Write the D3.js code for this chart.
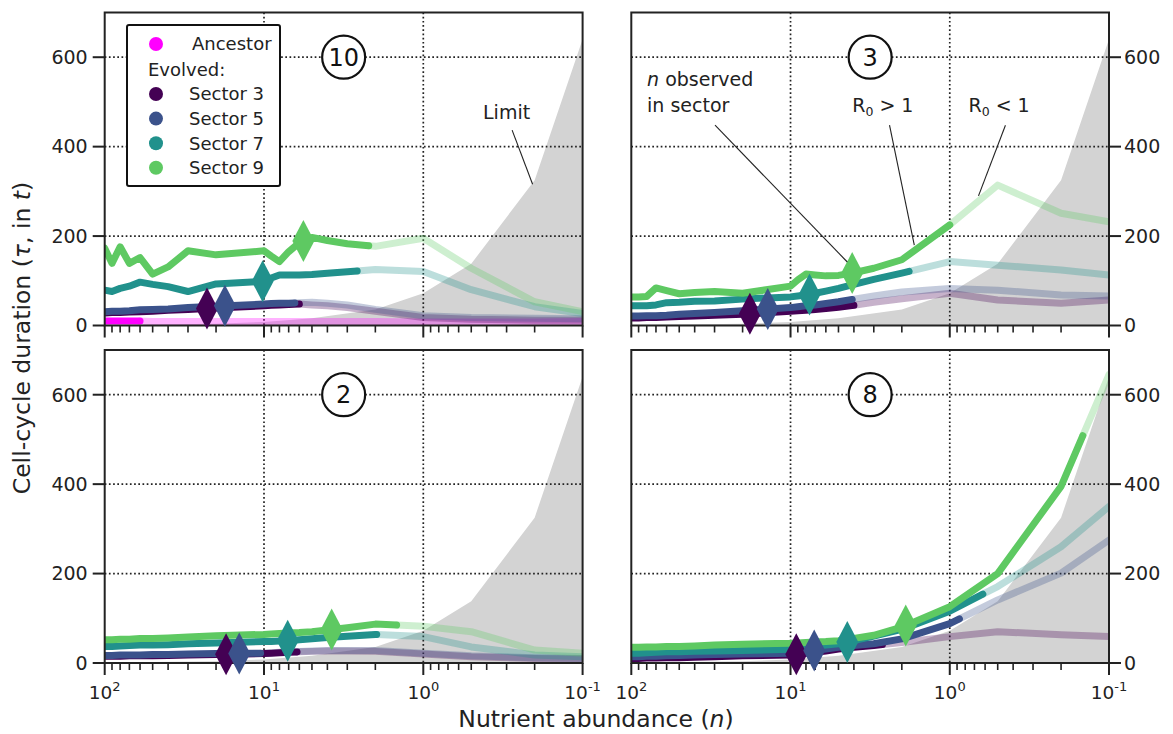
<!DOCTYPE html>
<html><head><meta charset="utf-8">
<script src="https://cdn.jsdelivr.net/npm/d3@7"></script>
<style>
body{margin:0;background:#fff}
svg{display:block}
text{font-family:"DejaVu Sans",sans-serif;fill:#222}
</style>
</head><body>
<svg id="chart" width="1173" height="734"></svg>
<script>
// ---------------- DATA ----------------
const N = [100,90,80,70,60,50,40,30,20,10,9,8,7,6,5,4,3,2,1,0.5,0.2,0.1];
const limitN   = [100,50,20,10,5,2,1,0.5,0.2,0.1];
const limitTau = [1,2,4,8,16,36,72,138,325,640];

const sectorNames = ["Sector 3","Sector 5","Sector 7","Sector 9"];
const sectorColors = ["#440154","#3b528b","#21918c","#5ec962"];
const ancestorColor = "#ff00ff";

// Panel "10"
const p10_s3 = [28,29,29,30,31,32,34,36,39,44,45,46,47,48,46,44,40,32,18,14,12,12];
const p10_s5 = [31,32,32,33,35,36,37,40,43,48,49,50,50,51,52,50,46,36,22,18,16,15];
const p10_s7 = [79,76,83,88,97,92,87,76,93,99,106,113,113,113,114,117,120,125,121,80,42,27];
const p10_s9 = [173,139,176,139,152,115,131,167,158,167,155,143,165,185,197,190,183,177,195,128,53,31];
const p10_cut = [6.0,6.4,2.6,2.2];
const p10_obs = [22.8,17.6,10.2,5.66];
const p10_ancestor = [10,10,10,10,10,9,9,9,9,9,9,9,9,9,9,9,9,9,8,8,8,9];
const p10_ancestorCut = 60;

// Panel "3"
const p3_s3 = [17,17,18,18,19,20,21,23,25,32,33,34,36,38,41,45,52,60,72,57,50,57];
const p3_s5 = [21,21,22,22,23,25,27,29,33,40,42,44,46,49,53,59,66,75,83,79,68,66];
const p3_s7 = [44,44,44,46,51,52,54,55,59,64,66,68,72,77,83,92,103,117,143,135,124,113];
const p3_s9 = [64,64,65,84,78,71,74,76,72,88,102,115,113,111,112,118,128,147,225,314,251,232];
const p3_cut = [4.0,4.1,1.8,1.0];
const p3_obs = [18,13.9,7.6,4.1];

// Panel "2"
const p2_s3 = [15,15,15,16,16,16,17,18,19,21,22,23,24,25,26,27,27,26,20,14,10,9];
const p2_s5 = [17,17,18,18,18,19,19,20,21,22,23,24,25,26,27,28,28,28,22,16,12,10];
const p2_s7 = [37,37,38,39,40,40,41,43,45,48,48,49,50,52,54,57,60,64,59,36,18,14];
const p2_s9 = [52,52,53,53,55,55,56,58,61,64,65,66,67,68,70,74,79,87,82,70,29,22];
const p2_cut = [6.2,10.5,1.96,1.47];
const p2_obs = [17.3,14.3,7.1,3.76];

// Panel "8"
const p8_s3 = [10,10,11,11,12,12,13,14,16,18,20,22,24,27,31,35,39,46,59,70,63,59];
const p8_s5 = [14,14,15,15,16,17,18,19,20,22,24,26,28,31,35,39,43,54,88,141,201,275];
const p8_s7 = [22,22,23,24,25,25,26,27,28,31,33,35,37,40,43,50,60,75,116,171,260,350];
const p8_s9 = [35,35,36,36,37,37,38,40,42,44,45,46,47,48,50,55,62,80,126,200,395,645];
const p8_cut = [2.65,0.87,0.62,0.146];
const p8_obs = [9.2,7.1,4.4,1.89];

const yTicks = [0,200,400,600];
const xMajor = [100,10,1,0.1];
const xMajorExp = ["2","1","0","-1"];
const xMinor = [90,80,70,60,50,40,30,20,9,8,7,6,5,4,3,2,0.9,0.8,0.7,0.6,0.5,0.4,0.3,0.2];
const xGrid = [10,1];

// annotations (data coordinates)
const limitLabel = {n:0.3, tau:462, text:"Limit", from:[0.277,437], to:[0.206,316]};
const obsLabel = {n:79.6, tau:536, from:[29.8,448], to:[4.4,142]};
const r0gtLabel = {n:4.1, tau:477, from:[2.39,448], to:[1.67,180]};
const r0ltLabel = {n:0.763, tau:477, from:[0.447,448], to:[0.66,290]};

// ---------------- LAYOUT ----------------
const colX = [[104.7,582.6],[631.3,1109]];
const rowY = [[12.5,325.5],[350,663]];
const panels = [
  {label:"10", col:0,row:0, series:[p10_s3,p10_s5,p10_s7,p10_s9], cut:p10_cut, obs:p10_obs, ancestor:p10_ancestor, ancestorCut:p10_ancestorCut},
  {label:"3",  col:1,row:0, series:[p3_s3,p3_s5,p3_s7,p3_s9], cut:p3_cut, obs:p3_obs},
  {label:"2",  col:0,row:1, series:[p2_s3,p2_s5,p2_s7,p2_s9], cut:p2_cut, obs:p2_obs},
  {label:"8",  col:1,row:1, series:[p8_s3,p8_s5,p8_s7,p8_s9], cut:p8_cut, obs:p8_obs}
];

const svg = d3.select("#chart");
const LW = 7, FADE = 0.3;

function interp(vals, n){
  const ln = Math.log10(n);
  for (let i=0;i<N.length-1;i++){
    if (N[i] >= n && n >= N[i+1]){
      const a=Math.log10(N[i]), b=Math.log10(N[i+1]);
      const t=(a-ln)/(a-b);
      return vals[i]+t*(vals[i+1]-vals[i]);
    }
  }
  return vals[vals.length-1];
}
function split(vals, cut){
  const pts = N.map((n,i)=>[n,vals[i]]);
  const c = [cut, interp(vals,cut)];
  const solid = pts.filter(p=>p[0]>cut).concat([c]);
  const faded = [c].concat(pts.filter(p=>p[0]<cut));
  return {solid, faded};
}

panels.forEach((P,pi)=>{
  const [x0,x1] = colX[P.col], [y0,y1] = rowY[P.row];
  const x = d3.scaleLog().domain([100,0.1]).range([x0,x1]);
  const y = d3.scaleLinear().domain([0,700]).range([y1,y0]);
  const g = svg.append("g");
  const clipId = "clip"+pi;
  svg.append("clipPath").attr("id",clipId).append("rect")
    .attr("x",x0).attr("y",y0).attr("width",x1-x0).attr("height",y1-y0);
  const inner = g.append("g").attr("clip-path",`url(#${clipId})`);

  // limit area
  const area = d3.area().x((d,i)=>x(limitN[i])).y0(y(0)).y1(d=>y(d));
  inner.append("path").datum(limitTau).attr("d",area).attr("fill","#d3d3d3");

  // grid
  yTicks.filter(t=>t>0).forEach(t=>{
    inner.append("line").attr("x1",x0).attr("x2",x1).attr("y1",y(t)).attr("y2",y(t))
      .attr("stroke","#222").attr("stroke-width",1.7).attr("stroke-dasharray","1.7,2.5");
  });
  xGrid.forEach(t=>{
    inner.append("line").attr("x1",x(t)).attr("x2",x(t)).attr("y1",y0).attr("y2",y1)
      .attr("stroke","#222").attr("stroke-width",1.7).attr("stroke-dasharray","1.7,2.5");
  });

  const line = d3.line().x(d=>x(d[0])).y(d=>y(d[1]));
  const parts = P.series.map((s,i)=>split(s,P.cut[i]));
  let anc = null;
  if (P.ancestor) anc = split(P.ancestor,P.ancestorCut);

  // faded
  if (anc) inner.append("path").attr("d",line(anc.faded)).attr("fill","none")
    .attr("stroke",ancestorColor).attr("stroke-opacity",FADE).attr("stroke-width",LW)
    .attr("stroke-linejoin","round").attr("stroke-linecap","round");
  parts.forEach((p,i)=>{
    inner.append("path").attr("d",line(p.faded)).attr("fill","none")
      .attr("stroke",sectorColors[i]).attr("stroke-opacity",FADE).attr("stroke-width",LW)
      .attr("stroke-linejoin","round").attr("stroke-linecap","round");
  });
  // solid
  if (anc) inner.append("path").attr("d",line(anc.solid)).attr("fill","none")
    .attr("stroke",ancestorColor).attr("stroke-width",LW)
    .attr("stroke-linejoin","round").attr("stroke-linecap","round");
  parts.forEach((p,i)=>{
    inner.append("path").attr("d",line(p.solid)).attr("fill","none")
      .attr("stroke",sectorColors[i]).attr("stroke-width",LW)
      .attr("stroke-linejoin","round").attr("stroke-linecap","round");
  });

  // frame
  g.append("rect").attr("x",x0).attr("y",y0).attr("width",x1-x0).attr("height",y1-y0)
    .attr("fill","none").attr("stroke","#222").attr("stroke-width",2);

  // x ticks
  xMajor.forEach((t,i)=>{
    g.append("line").attr("x1",x(t)).attr("x2",x(t)).attr("y1",y1).attr("y2",y1+12)
      .attr("stroke","#222").attr("stroke-width",2);
    if (P.row===1){
      const tx = g.append("text").attr("x",x(t)).attr("y",y1+36).attr("text-anchor","middle")
        .attr("font-size",18.5);
      tx.append("tspan").text("10");
      tx.append("tspan").attr("dy",-8).attr("font-size",13).text(xMajorExp[i]);
    }
  });
  xMinor.forEach(t=>{
    g.append("line").attr("x1",x(t)).attr("x2",x(t)).attr("y1",y1).attr("y2",y1+7)
      .attr("stroke","#222").attr("stroke-width",1.6);
  });
  // y ticks
  yTicks.forEach(t=>{
    if (P.col===0){
      g.append("line").attr("x1",x0-12).attr("x2",x0).attr("y1",y(t)).attr("y2",y(t))
        .attr("stroke","#222").attr("stroke-width",2);
      g.append("text").attr("x",x0-17).attr("y",y(t)).attr("dy","0.36em")
        .attr("text-anchor","end").attr("font-size",19).text(t);
    } else {
      g.append("line").attr("x1",x1).attr("x2",x1+12).attr("y1",y(t)).attr("y2",y(t))
        .attr("stroke","#222").attr("stroke-width",2);
      g.append("text").attr("x",x1+15).attr("y",y(t)).attr("dy","0.36em")
        .attr("text-anchor","start").attr("font-size",19).text(t);
    }
  });

  // diamonds
  P.obs.forEach((n,i)=>{
    const v = interp(P.series[i], n);
    const w = 11, h = 21;
    g.append("path").attr("d",`M0,${-h}L${w},0L0,${h}L${-w},0Z`)
      .attr("transform",`translate(${x(n)},${y(v)})`).attr("fill",sectorColors[i]);
  });

  // circled label
  const cx = (x0+x1)/2, cy = y(600);
  g.append("circle").attr("cx",cx).attr("cy",cy).attr("r",21.5).attr("fill","#fff")
    .attr("stroke","#111").attr("stroke-width",2.2);
  g.append("text").attr("x",cx).attr("y",cy).attr("dy","0.36em").attr("text-anchor","middle")
    .attr("font-size",24).style("fill","#111").text(P.label);

  // annotations
  if (P.label==="10"){
    g.append("line").attr("x1",x(limitLabel.from[0])).attr("y1",y(limitLabel.from[1]))
      .attr("x2",x(limitLabel.to[0])).attr("y2",y(limitLabel.to[1])).attr("stroke","#222").attr("stroke-width",1.1);
    g.append("text").attr("x",x(limitLabel.n)).attr("y",y(limitLabel.tau)).attr("text-anchor","middle")
      .attr("font-size",19).text(limitLabel.text);

    // legend
    const lg = g.append("g");
    lg.append("rect").attr("x",127).attr("y",25).attr("width",153).attr("height",161).attr("rx",2)
      .attr("fill","#fff").attr("stroke","#111").attr("stroke-width",2);
    lg.append("circle").attr("cx",156).attr("cy",44).attr("r",7).attr("fill",ancestorColor);
    lg.append("text").attr("x",192).attr("y",44).attr("dy","0.36em").attr("font-size",18).text("Ancestor");
    lg.append("text").attr("x",148).attr("y",70).attr("dy","0.36em").attr("font-size",18).text("Evolved:");
    sectorNames.forEach((s,i)=>{
      const yy = 94 + i*24.6;
      lg.append("circle").attr("cx",156).attr("cy",yy).attr("r",7).attr("fill",sectorColors[i]);
      lg.append("text").attr("x",189).attr("y",yy).attr("dy","0.36em").attr("font-size",18).text(s);
    });
  }
  if (P.label==="3"){
    [obsLabel,r0gtLabel,r0ltLabel].forEach(a=>{
      g.append("line").attr("x1",x(a.from[0])).attr("y1",y(a.from[1]))
        .attr("x2",x(a.to[0])).attr("y2",y(a.to[1])).attr("stroke","#222").attr("stroke-width",1.1);
    });
    const t1 = g.append("text").attr("x",x(obsLabel.n)).attr("y",y(obsLabel.tau)).attr("font-size",19);
    t1.append("tspan").attr("font-style","italic").text("n");
    t1.append("tspan").text(" observed");
    g.append("text").attr("x",x(obsLabel.n)).attr("y",y(r0gtLabel.tau)).attr("font-size",19).text("in sector");
    [[r0gtLabel," > 1"],[r0ltLabel," < 1"]].forEach(([a,s])=>{
      const t = g.append("text").attr("x",x(a.n)).attr("y",y(a.tau)).attr("font-size",19);
      t.append("tspan").text("R");
      t.append("tspan").attr("font-size",12.5).attr("dy",4).text("0");
      t.append("tspan").attr("dy",-4).text(s);
    });
  }
});

// axis titles
const xt = svg.append("text").attr("x",596).attr("y",727).attr("text-anchor","middle").attr("font-size",23.5);
xt.append("tspan").text("Nutrient abundance (");
xt.append("tspan").attr("font-style","italic").text("n");
xt.append("tspan").text(")");

const yt = svg.append("text").attr("transform","translate(30,338) rotate(-90)").attr("text-anchor","middle").attr("font-size",23.5);
yt.append("tspan").text("Cell-cycle duration (");
yt.append("tspan").attr("font-style","italic").text("τ");
yt.append("tspan").text(", in ");
yt.append("tspan").attr("font-style","italic").text("t");
yt.append("tspan").text(")");
</script>
</body></html>
